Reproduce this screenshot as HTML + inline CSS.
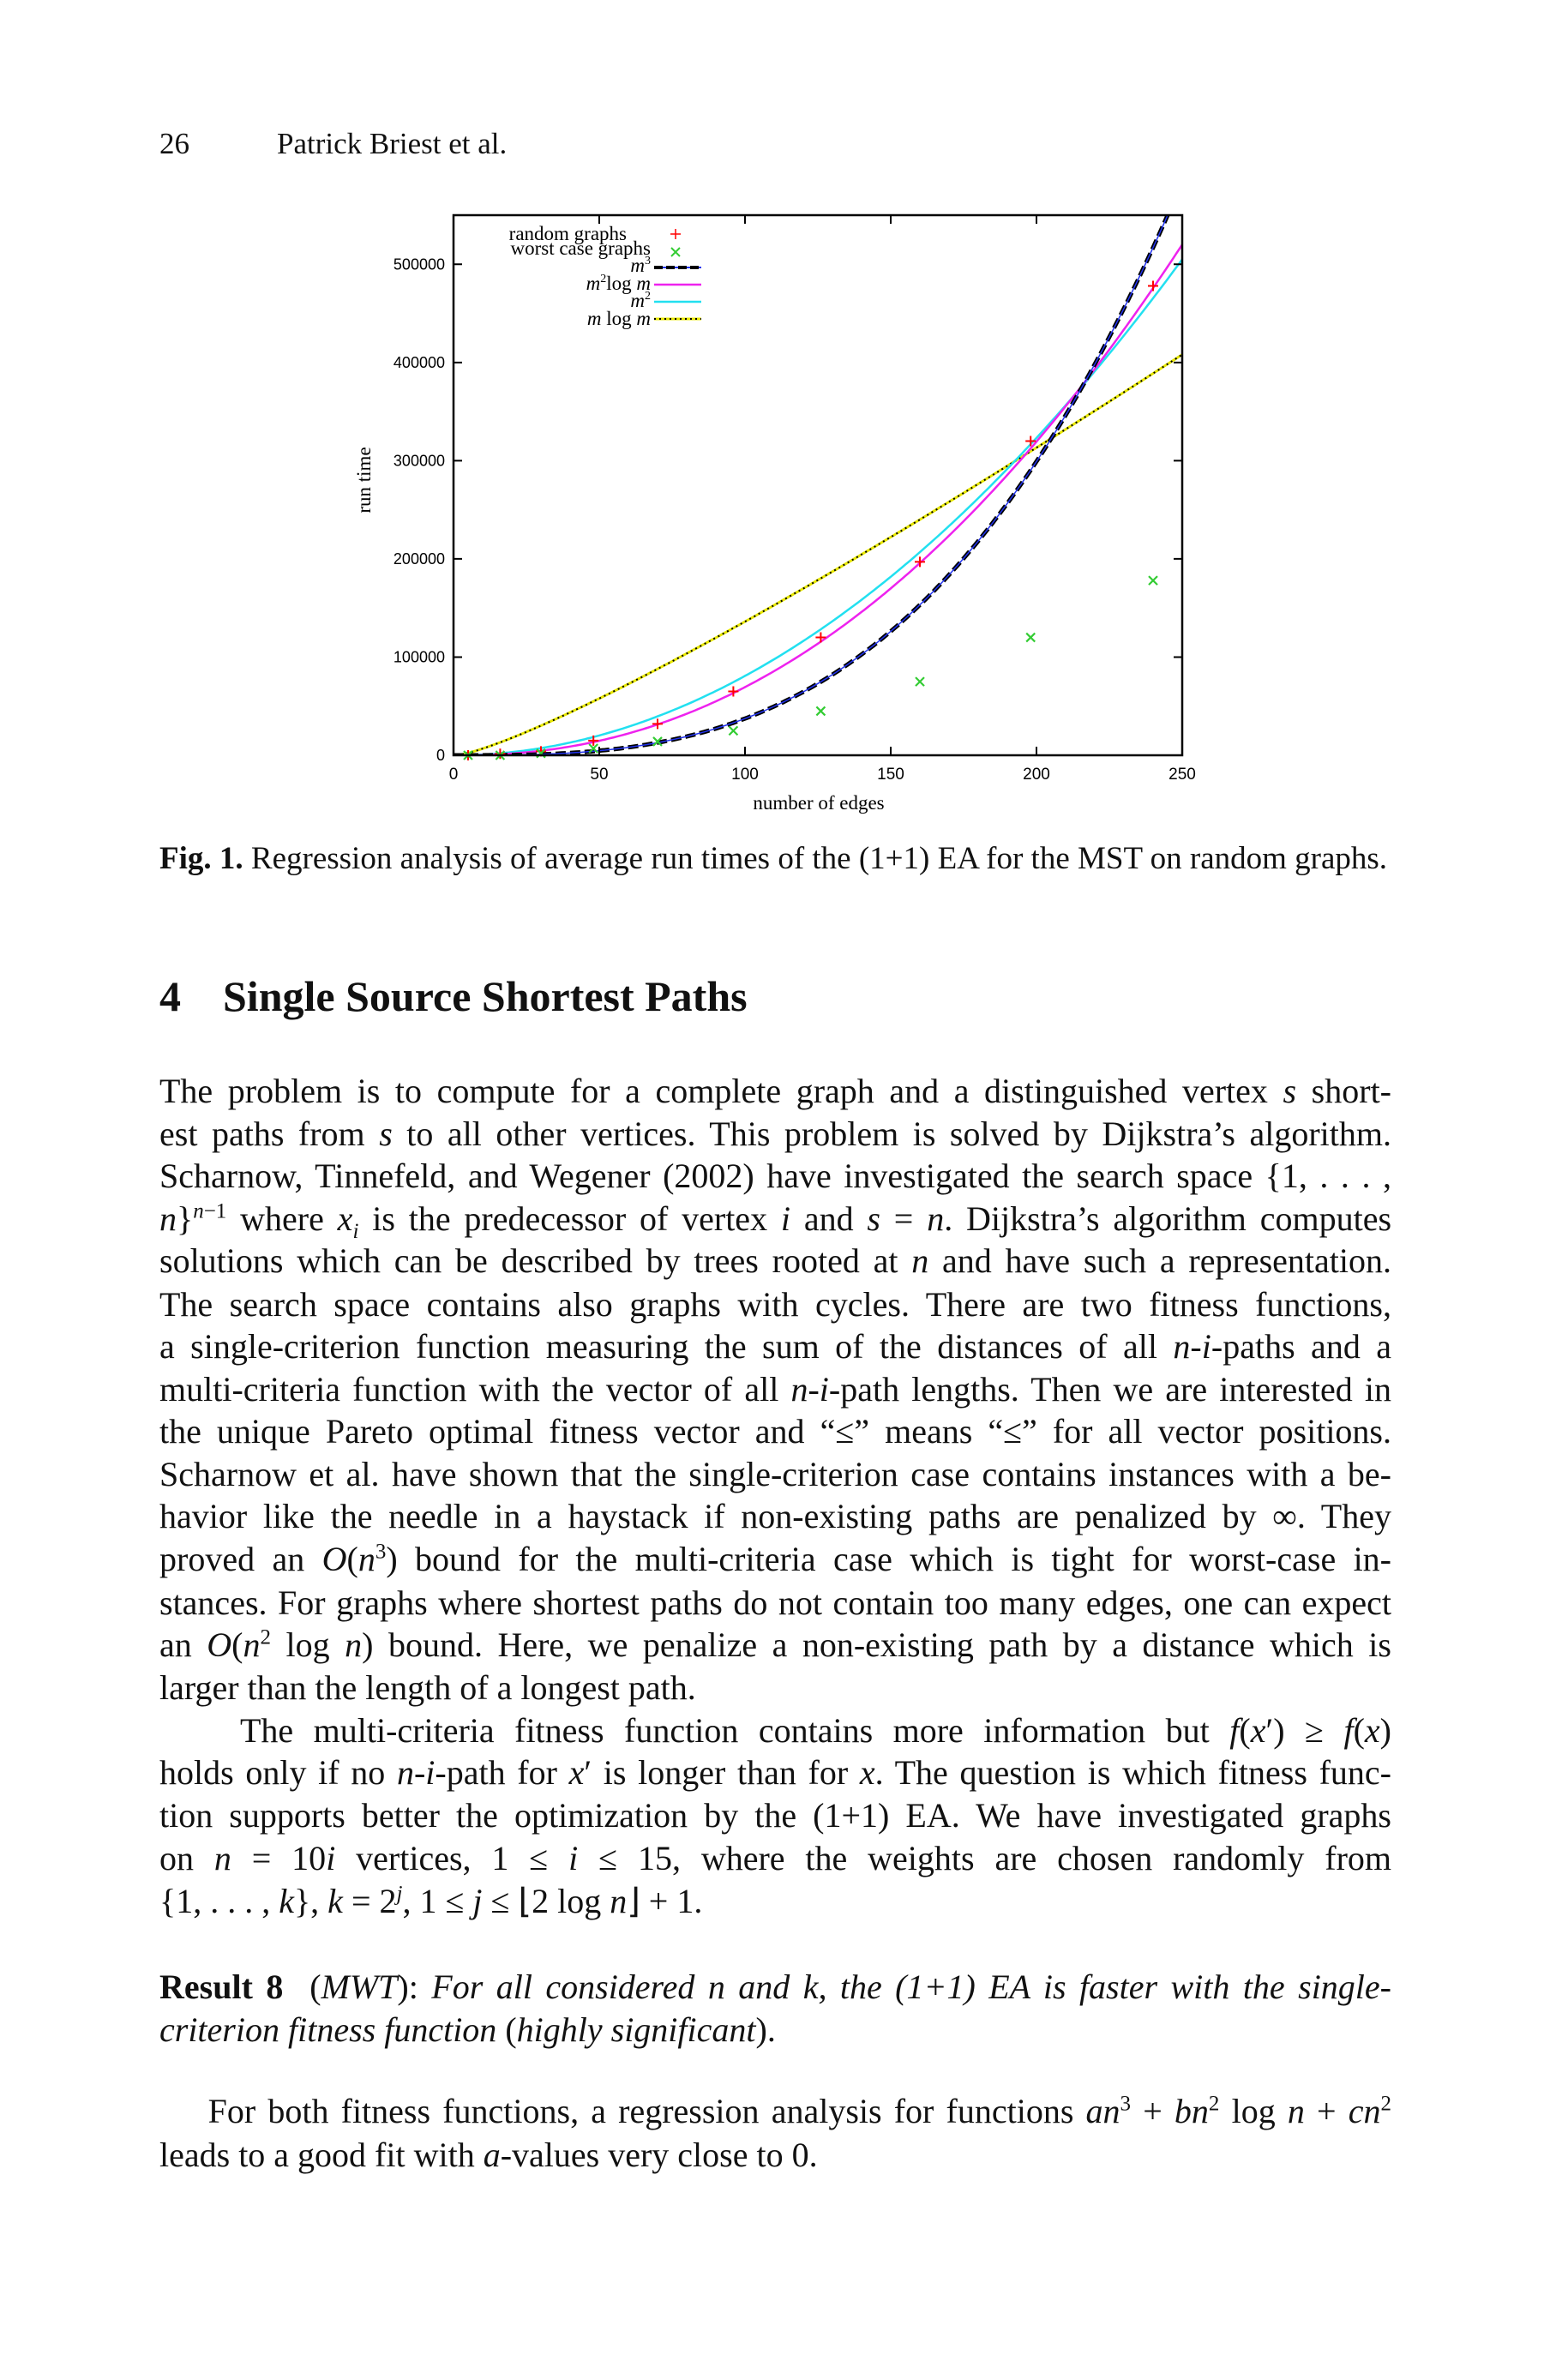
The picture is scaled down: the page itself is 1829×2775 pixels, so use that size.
<!DOCTYPE html>
<html><head><meta charset="utf-8">
<style>
body{margin:0;background:#fff;}
#page{position:relative;width:1829px;height:2775px;background:#fff;font-family:"Liberation Serif",serif;color:#111;overflow:hidden;}
.ab{position:absolute;white-space:nowrap;}
.ln{position:absolute;left:186px;width:1437px;font-size:40px;line-height:40px;text-align:justify;text-align-last:justify;white-space:nowrap;}
.ln.l{text-align-last:left;}
i{font-style:italic;}
sup{font-size:25px;line-height:0;}
sub{font-size:25px;line-height:0;}
</style></head><body>
<div id="page">
<div class="ab" style="left:186px;top:148px;font-size:35px;">26</div>
<div class="ab" style="left:323px;top:148px;font-size:35px;">Patrick Briest et al.</div>

<svg id="chart" class="ab" style="left:0;top:0" width="1829" height="1000" xmlns="http://www.w3.org/2000/svg"></svg>

<div class="ab" style="left:186px;top:980px;font-size:37px;"><b>Fig. 1.</b> Regression analysis of average run times of the (1+1) EA for the MST on random graphs.</div>

<div class="ab" style="left:186px;top:1133px;font-size:50px;font-weight:bold;">4</div>
<div class="ab" style="left:260px;top:1133px;font-size:50px;font-weight:bold;">Single Source Shortest Paths</div>

<div class="ln" style="top:1253px">The problem is to compute for a complete graph and a distinguished vertex <i>s</i> short-</div>
<div class="ln" style="top:1303px">est paths from <i>s</i> to all other vertices. This problem is solved by Dijkstra’s algorithm.</div>
<div class="ln" style="top:1352px">Scharnow, Tinnefeld, and Wegener (2002) have investigated the search space {1, . . . ,</div>
<div class="ln" style="top:1402px"><i>n</i>}<sup><i>n</i>−1</sup> where <i>x<sub>i</sub></i> is the predecessor of vertex <i>i</i> and <i>s</i> = <i>n</i>. Dijkstra’s algorithm computes</div>
<div class="ln" style="top:1451px">solutions which can be described by trees rooted at <i>n</i> and have such a representation.</div>
<div class="ln" style="top:1502px">The search space contains also graphs with cycles. There are two fitness functions,</div>
<div class="ln" style="top:1551px">a single-criterion function measuring the sum of the distances of all <i>n</i>-<i>i</i>-paths and a</div>
<div class="ln" style="top:1601px">multi-criteria function with the vector of all <i>n</i>-<i>i</i>-path lengths. Then we are interested in</div>
<div class="ln" style="top:1650px">the unique Pareto optimal fitness vector and “≤” means “≤” for all vector positions.</div>
<div class="ln" style="top:1700px">Scharnow et al. have shown that the single-criterion case contains instances with a be-</div>
<div class="ln" style="top:1749px">havior like the needle in a haystack if non-existing paths are penalized by ∞. They</div>
<div class="ln" style="top:1799px">proved an <i>O</i>(<i>n</i><sup>3</sup>) bound for the multi-criteria case which is tight for worst-case in-</div>
<div class="ln" style="top:1850px">stances. For graphs where shortest paths do not contain too many edges, one can expect</div>
<div class="ln" style="top:1899px">an <i>O</i>(<i>n</i><sup>2</sup> log <i>n</i>) bound. Here, we penalize a non-existing path by a distance which is</div>
<div class="ln l" style="top:1949px">larger than the length of a longest path.</div>
<div class="ln" style="top:1999px">&nbsp;&nbsp;&nbsp;&nbsp;The multi-criteria fitness function contains more information but <i>f</i>(<i>x</i>′) ≥ <i>f</i>(<i>x</i>)</div>
<div class="ln" style="top:2048px">holds only if no <i>n</i>-<i>i</i>-path for <i>x</i>′ is longer than for <i>x</i>. The question is which fitness func-</div>
<div class="ln" style="top:2098px">tion supports better the optimization by the (1+1) EA. We have investigated graphs</div>
<div class="ln" style="top:2148px">on <i>n</i> = 10<i>i</i> vertices, 1 ≤ <i>i</i> ≤ 15, where the weights are chosen randomly from</div>
<div class="ln l" style="top:2198px">{1, . . . , <i>k</i>}, <i>k</i> = 2<sup><i>j</i></sup>, 1 ≤ <i>j</i> ≤ ⌊2 log <i>n</i>⌋ + 1.</div>

<div class="ln" style="top:2298px"><b>Result 8</b> &nbsp;(<i>MWT</i>): <i>For all considered n and k, the (1+1) EA is faster with the single-</i></div>
<div class="ln l" style="top:2348px"><i>criterion fitness function</i> (<i>highly significant</i>).</div>

<div class="ln" style="top:2443px">&nbsp;&nbsp;&nbsp;&nbsp;For both fitness functions, a regression analysis for functions <i>an</i><sup>3</sup> + <i>bn</i><sup>2</sup> log <i>n</i> + <i>cn</i><sup>2</sup></div>
<div class="ln l" style="top:2494px">leads to a good fit with <i>a</i>-values very close to 0.</div>
</div>
<script>
(function(){
var L=529,R=1379,T=251,B=881;
function X(v){return L+(R-L)*v/250;}
function Y(v){return B-(B-T)*v/550000;}
var s='';
s+='<defs><clipPath id="cp"><rect x="'+L+'" y="'+T+'" width="'+(R-L)+'" height="'+(B-T)+'"/></clipPath></defs>';
function path(f,a,b){var d='';for(var m=a;m<=b;m+=1){d+=(m==a?'M':'L')+X(m).toFixed(1)+','+Y(f(m)).toFixed(1);}return d;}
var g='<g clip-path="url(#cp)" fill="none">';
g+='<path d="'+path(function(m){return 295.6*m*Math.log(m);},1,250)+'" stroke="#e8e800" stroke-width="3"/>';
g+='<path d="'+path(function(m){return 295.6*m*Math.log(m);},1,250)+'" stroke="#000" stroke-width="2" stroke-dasharray="2,4"/>';
g+='<path d="'+path(function(m){return 8.08*m*m;},0,250)+'" stroke="#22e0f0" stroke-width="2.5"/>';
g+='<path d="'+path(function(m){return 1.507*m*m*Math.log(m);},1,250)+'" stroke="#ee22ee" stroke-width="2.5"/>';
g+='<path d="'+path(function(m){return 0.0374*m*m*m;},0,250)+'" stroke="#000" stroke-width="5" stroke-dasharray="12,5"/>';
g+='<path d="'+path(function(m){return 0.0374*m*m*m;},0,250)+'" stroke="#2233ee" stroke-width="1.5"/>';
g+='</g>';
var rg=[[5,0],[16,1500],[30,4000],[48,15000],[70,32000],[96,65000],[126,120000],[160,197000],[198,320000],[240,478000]];
var wc=[[5,0],[16,0],[30,2000],[48,7000],[70,14000],[96,25000],[126,45000],[160,75000],[198,120000],[240,178000]];
rg.forEach(function(p){var x=X(p[0]),y=Y(p[1]);g+='<path d="M'+(x-6)+','+y+'h12M'+x+','+(y-6)+'v12" stroke="#f00" stroke-width="2"/>';});
wc.forEach(function(p){var x=X(p[0]),y=Y(p[1]);g+='<path d="M'+(x-5)+','+(y-5)+'l10,10M'+(x-5)+','+(y+5)+'l10,-10" stroke="#3c3" stroke-width="2.2"/>';});
s+=g;
s+='<rect x="'+L+'" y="'+T+'" width="'+(R-L)+'" height="'+(B-T)+'" fill="none" stroke="#000" stroke-width="2.5"/>';
var t='';
for(var i=0;i<=5;i++){var y=Y(i*100000);t+='<path d="M'+L+','+y+'h10M'+R+','+y+'h-10" stroke="#000" stroke-width="2"/>';
s+='<text x="'+(L-10)+'" y="'+(y+6)+'" font-family="Liberation Sans,sans-serif" font-size="18" text-anchor="end">'+(i*100000)+'</text>';}
for(var j=0;j<=5;j++){var x=X(j*50);t+='<path d="M'+x+','+B+'v-10M'+x+','+T+'v10" stroke="#000" stroke-width="2"/>';
s+='<text x="'+x+'" y="'+(B+28)+'" font-family="Liberation Sans,sans-serif" font-size="19" text-anchor="middle">'+(j*50)+'</text>';}
s+=t;
s+='<text x="955" y="944" font-family="Liberation Serif,serif" font-size="23" text-anchor="middle">number of edges</text>';
s+='<text transform="translate(432,560) rotate(-90)" font-family="Liberation Serif,serif" font-size="23" text-anchor="middle">run time</text>';
var fs='font-family="Liberation Serif,serif" font-size="23" text-anchor="end"';
s+='<text x="731" y="280" '+fs+'>random graphs</text>';
s+='<text x="759" y="297" '+fs+'>worst case graphs</text>';
s+='<text x="759" y="317" '+fs+'><tspan font-style="italic">m</tspan><tspan font-size="14" dy="-9">3</tspan></text>';
s+='<text x="759" y="338" '+fs+'><tspan font-style="italic">m</tspan><tspan font-size="14" dy="-9">2</tspan><tspan dy="9">log </tspan><tspan font-style="italic">m</tspan></text>';
s+='<text x="759" y="358" '+fs+'><tspan font-style="italic">m</tspan><tspan font-size="14" dy="-9">2</tspan></text>';
s+='<text x="759" y="379" '+fs+'><tspan font-style="italic">m</tspan> log <tspan font-style="italic">m</tspan></text>';
s+='<path d="M782,273h12M788,267v12" stroke="#f00" stroke-width="1.5"/>';
s+='<path d="M783,289l10,10M783,299l10,-10" stroke="#3c3" stroke-width="2"/>';
s+='<path d="M763,312h55" stroke="#2233ee" stroke-width="2"/><path d="M763,312h55" stroke="#000" stroke-width="4" stroke-dasharray="10,4"/>';
s+='<path d="M763,332h55" stroke="#ee22ee" stroke-width="2.5"/>';
s+='<path d="M763,352h55" stroke="#22e0f0" stroke-width="2.5"/>';
s+='<path d="M763,372h55" stroke="#e8e800" stroke-width="3"/><path d="M763,372h55" stroke="#000" stroke-width="2" stroke-dasharray="2,4"/>';
document.getElementById('chart').innerHTML=s;
})();
</script>
</body></html>
